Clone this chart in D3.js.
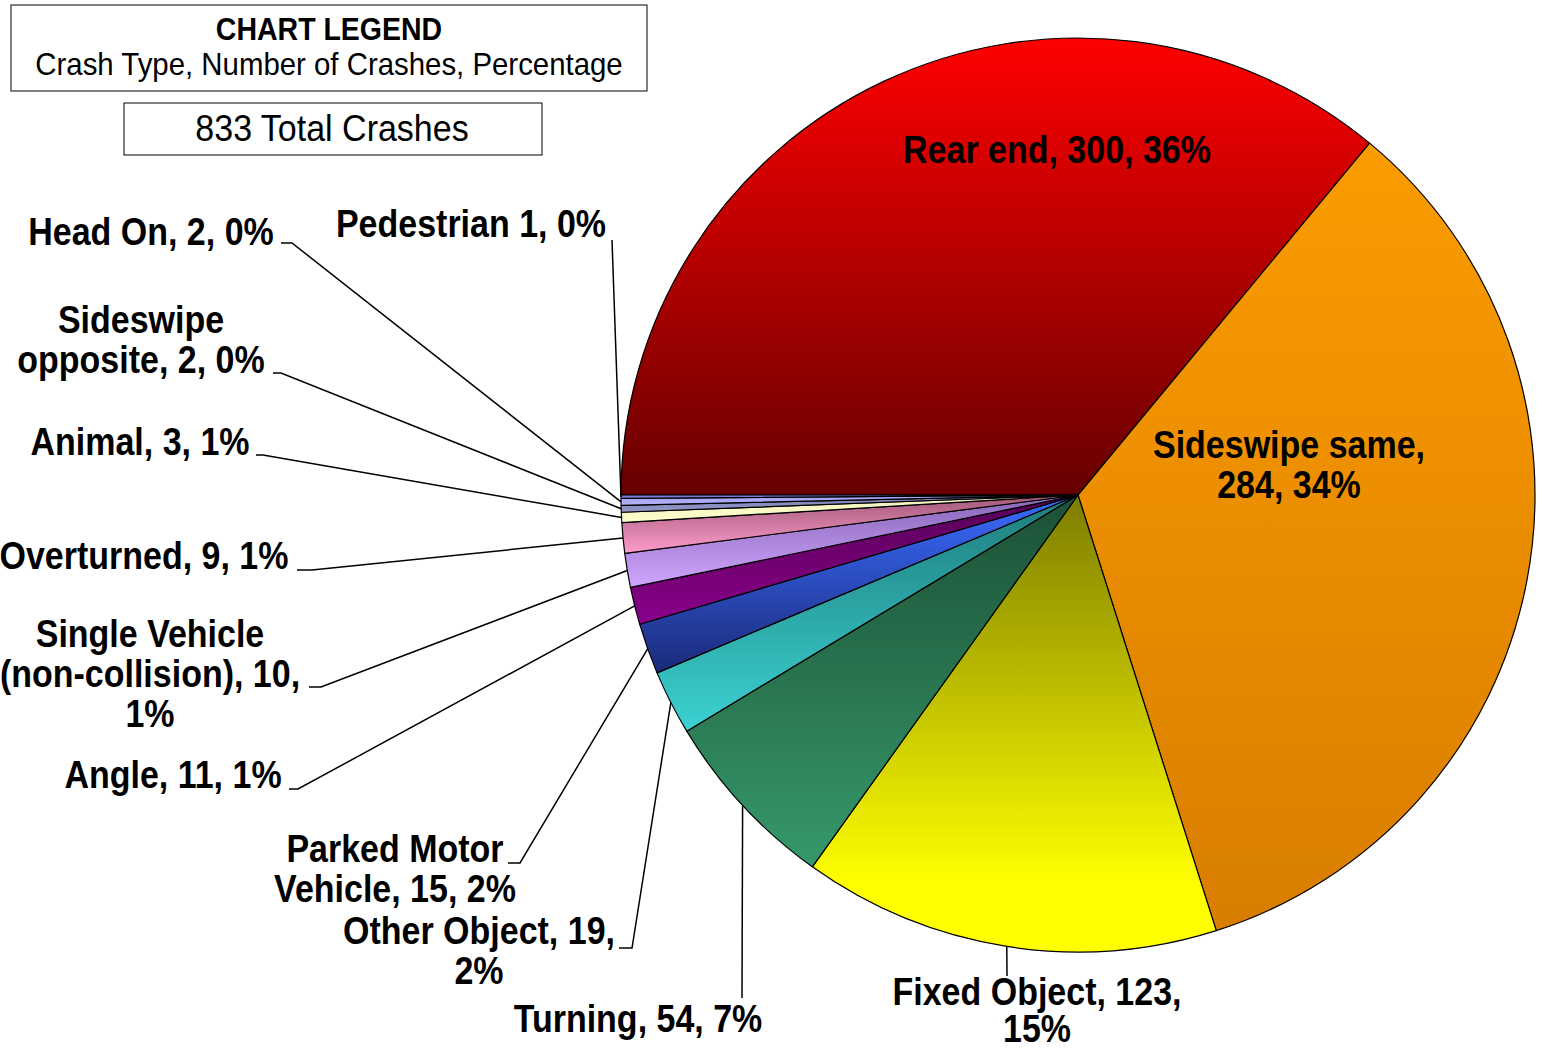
<!DOCTYPE html>
<html>
<head>
<meta charset="utf-8">
<script src="https://cdn.jsdelivr.net/npm/d3@7"></script>
<style>
body{margin:0;background:#fff}
svg{display:block}
text{font-family:"Liberation Sans",Arial,sans-serif;fill:#000}
</style>
</head>
<body>
<div class="chart"></div>
<script>
// crash types in clockwise order, starting at 9 o'clock
const categories=["Rear end","Sideswipe same","Fixed Object","Turning","Other Object",
	"Parked Motor Vehicle","Angle","Single Vehicle (non-collision)","Overturned","Animal",
	"Sideswipe opposite","Head On","Pedestrian"]
const crashes=[300,284,123,54,19,15,11,10,9,3,2,2,1]
const percents=["36%","34%","15%","7%","2%","2%","1%","1%","1%","1%","0%","0%","0%"]
const total=833

// label text as it wraps in the chart
const labelLines=[
	["Rear end, 300, 36%"],
	["Sideswipe same,","284, 34%"],
	["Fixed Object, 123,","15%"],
	["Turning, 54, 7%"],
	["Other Object, 19,","2%"],
	["Parked Motor","Vehicle, 15, 2%"],
	["Angle, 11, 1%"],
	["Single Vehicle","(non-collision), 10,","1%"],
	["Overturned, 9, 1%"],
	["Animal, 3, 1%"],
	["Sideswipe","opposite, 2, 0%"],
	["Head On, 2, 0%"],
	["Pedestrian 1, 0%"]
]

// gradient colours per slice (top, bottom)
const colors=[
	["#ff0000","#660000"],
	["#fb9c00","#d97d00"],
	["#7d7d00","#ffff00"],
	["#1c5036","#36996a"],
	["#1e7c7c","#3cd2d2"],
	["#3a6cff","#1a2a78"],
	["#560056","#8a008a"],
	["#8866b8","#d0a6ff"],
	["#a05878","#ff9ccc"],
	["#f0f0c0","#ffffcc"],
	["#7c80b0","#9498c8"],
	["#a0a0f0","#b4b4ff"],
	["#6c6cc8","#8a8ae8"]
]

// label layout: text centre x, first baseline, line step; leader elbow and end
const layout=[
	{x:1057,y:163,leader:null},
	{x:1289,y:458,leader:null},
	{x:1037,y:1005,step:37,leader:[[1007,976]]},
	{x:638,y:1032,leader:[[742,998]]},
	{x:479,y:944,leader:[[632,948],[619,948]]},
	{x:395,y:862,leader:[[520,863],[508,863]]},
	{x:173,y:788,leader:[[298,789],[289,789]]},
	{x:150,y:647,leader:[[321,687],[309,687]]},
	{x:144,y:569,leader:[[312,570],[297,570]]},
	{x:140,y:455,leader:[[263,455],[256,455]]},
	{x:141,y:333,leader:[[281,373],[273,373]]},
	{x:151,y:245,leader:[[292,243],[281,243]]},
	{x:471,y:237,leader:[[612,240]]}
]

const width=1542,height=1050
const cx=1078,cy=495,R=457
const lineH=40,sy=1.12

const data=categories.map((c,i)=>({category:c,count:crashes[i],pct:percents[i],lines:labelLines[i],pos:layout[i],color:colors[i]}))

const svg=d3.select('.chart').append('svg')
		.attr('width',width)
		.attr('height',height)

const defs=svg.append('defs')
defs.selectAll('linearGradient')
		.data(data)
		.join('linearGradient')
		.attr('id',(d,i)=>'grad'+i)
		.attr('x1',0).attr('y1',0).attr('x2',0).attr('y2',1)
		.each(function(d,i){
			const g=d3.select(this)
			g.append('stop').attr('offset',0).attr('stop-color',d.color[0])
			g.append('stop').attr('offset',i==2?0.85:1).attr('stop-color',d.color[1])
		})

// legend boxes
svg.append('rect')
		.attr('x',11).attr('y',5).attr('width',636).attr('height',86)
		.attr('fill','#fff').attr('stroke','#000').attr('stroke-width',1)
svg.append('text')
		.attr('transform',`translate(329,40) scale(1,1.08)`)
		.attr('text-anchor','middle')
		.style('font-size','28.5px').style('font-weight','bold')
		.text('CHART LEGEND')
svg.append('text')
		.attr('transform',`translate(329,75) scale(1,1.08)`)
		.attr('text-anchor','middle')
		.style('font-size','29.4px')
		.text('Crash Type, Number of Crashes, Percentage')

svg.append('rect')
		.attr('x',124).attr('y',103).attr('width',418).attr('height',52)
		.attr('fill','#fff').attr('stroke','#000').attr('stroke-width',1)
svg.append('text')
		.attr('transform',`translate(332,141) scale(1,1.08)`)
		.attr('text-anchor','middle')
		.style('font-size','34px')
		.text(total+' Total Crashes')

const pie=d3.pie()
		.sort(null)
		.value(d=>d.count)
		.startAngle(-Math.PI/2)
		.endAngle(Math.PI*1.5)

const arc=d3.arc().innerRadius(0).outerRadius(R)
const edgeArc=d3.arc().innerRadius(R).outerRadius(R)

const arcs=pie(data)

const g=svg.append('g')
		.attr('transform',`translate(${cx},${cy})`)

g.selectAll('.slice')
		.data(arcs)
		.join('path')
		.attr('class','slice')
		.attr('d',arc)
		.attr('fill',(d,i)=>`url(#grad${i})`)
		.attr('stroke','#000')
		.attr('stroke-width',1.2)
		.attr('stroke-linejoin','round')

// leader lines from slice edge
svg.append('g')
		.selectAll('polyline')
		.data(arcs.filter(d=>d.data.pos.leader))
		.join('polyline')
		.attr('points',d=>{
			const c=edgeArc.centroid(d)
			const pts=[[c[0]+cx,c[1]+cy]].concat(d.data.pos.leader)
			return pts.map(p=>p.join(',')).join(' ')
		})
		.attr('fill','none')
		.attr('stroke','#000')
		.attr('stroke-width',1.5)

// labels
const labels=svg.append('g')
		.selectAll('g')
		.data(arcs)
		.join('g')

labels.each(function(d){
	const el=d3.select(this)
	const step=d.data.pos.step||lineH
	d.data.lines.forEach((ln,j)=>{
		el.append('text')
			.attr('transform',`translate(${d.data.pos.x},${d.data.pos.y+j*step}) scale(1,${sy})`)
			.attr('text-anchor','middle')
			.style('font-size','34px')
			.style('font-weight','bold')
			.text(ln)
	})
})
</script>
</body>
</html>
